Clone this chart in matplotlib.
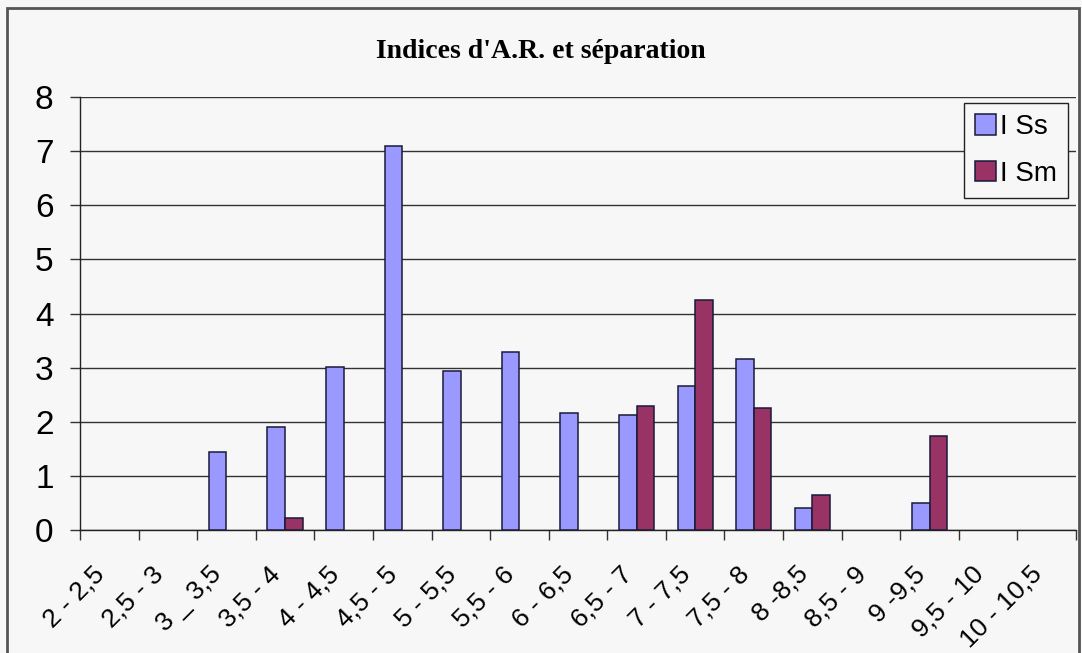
import numpy as np
import matplotlib
matplotlib.use("Agg")
import matplotlib.pyplot as plt
from matplotlib.patches import Rectangle

categories = ["2 - 2,5", "2,5 - 3", "3 _ 3,5", "3,5 - 4", "4 - 4,5", "4,5 - 5",
              "5 - 5,5", "5,5 - 6", "6 - 6,5", "6,5 - 7", "7 - 7,5", "7,5 - 8",
              "8 -8,5", "8,5 - 9", "9 -9,5", "9,5 - 10", "10 - 10,5"]
i_ss = [0, 0, 1.44, 1.90, 3.01, 7.10, 2.94, 3.29, 2.16, 2.13, 2.66, 3.16,
        0.41, 0, 0.50, 0, 0]
i_sm = [0, 0, 0, 0.22, 0, 0, 0, 0, 0, 2.29, 4.25, 2.25, 0.65, 0, 1.74, 0, 0]

bg = "#f7f7f7"
plt.rcParams["font.family"] = ["Liberation Sans", "DejaVu Sans"]

fig = plt.figure(figsize=(10.82, 6.53), dpi=100, facecolor=bg)
ax = fig.add_axes([80 / 1082, 1 - 530 / 653, 996 / 1082, 433 / 653])
ax.set_facecolor(bg)

x = np.arange(len(categories))
w = 0.3
ss = np.array(i_ss)
sm = np.array(i_sm)
# empty classes get no bar at all (no flat outline on the axis)
ax.bar(x[ss > 0] - w / 2, ss[ss > 0], w, color="#9999ff", edgecolor="#1a1a3a",
       linewidth=1.1, label="I Ss", zorder=3)
ax.bar(x[sm > 0] + w / 2, sm[sm > 0], w, color="#993366", edgecolor="#1a1a3a",
       linewidth=1.1, label="I Sm", zorder=3)

ax.set_xlim(-0.5, len(categories) - 0.5)
ax.set_ylim(0, 8)
ax.set_yticks(range(0, 9))
ax.yaxis.grid(True, color="#333333", linewidth=1.0, zorder=0)
ax.set_axisbelow(True)

ax.set_xticks(x)
ax.set_xticklabels(categories, rotation=45, ha="right", va="top", fontsize=19)
ax.set_xticks(np.arange(-0.5, len(categories)), minor=True)
ax.tick_params(axis="x", which="major", length=0, pad=23)
ax.tick_params(axis="x", which="minor", length=7, width=1, color="#333333")
ax.tick_params(axis="y", length=7, width=1, color="#333333", pad=12, labelsize=24)

for s in ["top", "right"]:
    ax.spines[s].set_visible(False)
for s in ["left", "bottom"]:
    ax.spines[s].set_color("#222222")
    ax.spines[s].set_linewidth(1.0)

leg = ax.legend(loc="upper right", bbox_to_anchor=(0.992, 0.986), fontsize=20,
                frameon=True, fancybox=False, handlelength=0.75, handleheight=0.75,
                handletextpad=0.15, labelspacing=0.75, borderpad=0.4,
                borderaxespad=0)
leg.get_frame().set_edgecolor("#222222")
leg.get_frame().set_linewidth(1.0)
leg.get_frame().set_facecolor(bg)
leg.get_frame().set_alpha(1)

fig.text(0.5, 1 - 52 / 653, "Indices d'A.R. et séparation", ha="center",
         va="center", fontsize=20, fontweight="bold", family="Liberation Serif")

fig.patches.append(Rectangle((7 / 1082, -0.02), 1072 / 1082, 1 - 8 / 653 + 0.02,
                             transform=fig.transFigure, fill=False,
                             edgecolor="#555555", linewidth=2))

fig.savefig("out.png", dpi=100, facecolor=bg)
